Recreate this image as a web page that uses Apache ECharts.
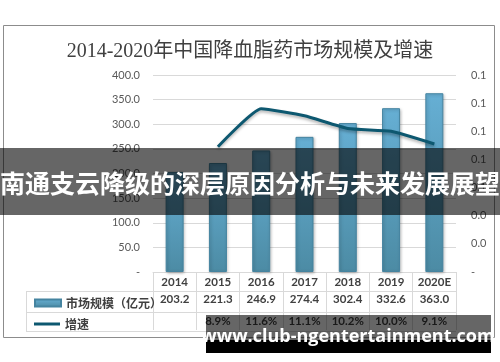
<!DOCTYPE html>
<html><head><meta charset="utf-8">
<script src="https://cdn.jsdelivr.net/npm/echarts@6/dist/echarts.min.js"></script>
<style>html,body{margin:0;padding:0;background:#fff}#c{width:500px;height:362px}</style>
</head><body><div id="c"></div>
<script>
// ---- data ----
const years = ['2014', '2015', '2016', '2017', '2018', '2019', '2020E'];
const marketSize = [203.2, 221.3, 246.9, 274.4, 302.4, 332.6, 363.0];
const growthRate = [null, 0.089, 0.116, 0.111, 0.102, 0.100, 0.091];
const seriesNames = ['市场规模（亿元）', '增速'];
const titleText = '2014-2020年中国降血脂药市场规模及增速';
const bannerText = '南通支云降级的深层原因分析与未来发展展望';
const watermarkText = 'www.club-ngentertainment.com';

const sizeLabels = marketSize.map(v => v.toFixed(1));
const growthLabels = growthRate.map(v => v == null ? '' : (v * 100).toFixed(1) + '%');

const chart = echarts.init(document.getElementById('c'));
const gridC = '#d9d9d9';
const tblFont = {fontFamily: 'Lato', fontSize: 11.5, fontWeight: 'bold', color: '#404040'};
const axisFont = {fontFamily: 'Lato', fontSize: 11, color: '#595959'};
const legText = {fontFamily: '"Noto Sans CJK SC"', fontSize: 12, fontWeight: 'bold', color: '#404040'};

chart.setOption({
  animation: false,
  title: {
    text: titleText, left: 'center', top: 37,
    textStyle: {fontFamily: '"Liberation Serif", "Noto Sans CJK SC"', fontSize: 20, fontWeight: 'normal', color: '#404040'}
  },
  grid: {left: 153, right: 44, top: 75, bottom: 90},
  legend: [
    {data: [seriesNames[0]], left: 29, top: 292, itemWidth: 26, itemHeight: 7, icon: 'rect', itemGap: 4,
     textStyle: legText, selectedMode: false},
    {data: [seriesNames[1]], left: 29, top: 313, itemWidth: 26, itemHeight: 3, icon: 'rect',
     textStyle: legText, selectedMode: false}
  ],
  xAxis: [
    {type: 'category', data: years, position: 'bottom', offset: 1,
     axisLine: {show: true, lineStyle: {color: gridC}},
     axisTick: {show: true, length: 58, lineStyle: {color: gridC}},
     axisLabel: Object.assign({margin: 3}, tblFont)},
    {type: 'category', data: sizeLabels, position: 'bottom', offset: 19,
     axisLine: {show: false}, axisTick: {show: false},
     axisLabel: Object.assign({margin: 2}, tblFont)},
    {type: 'category', data: growthLabels, position: 'bottom', offset: 41,
     axisLine: {show: false}, axisTick: {show: false},
     axisLabel: Object.assign({margin: 2}, tblFont)}
  ],
  yAxis: [
    {type: 'value', min: 0, max: 400, interval: 50,
     axisLine: {show: false}, axisTick: {show: false},
     splitLine: {lineStyle: {color: gridC}},
     axisLabel: Object.assign({margin: 13, formatter: v => v === 0 ? '-' : v.toFixed(1)}, axisFont)},
    {type: 'value', min: 0, max: 0.14, interval: 0.02,
     axisLine: {show: false}, axisTick: {show: false}, splitLine: {show: false},
     axisLabel: Object.assign({margin: 15, formatter: v => v === 0 ? '-' : v.toFixed(1)}, axisFont)}
  ],
  series: [
    {name: seriesNames[0], type: 'bar', data: marketSize, barWidth: 18,
     itemStyle: {
       color: new echarts.graphic.LinearGradient(0, 0, 0, 1, [
         {offset: 0, color: '#66afd4'}, {offset: 1, color: '#4c8ba4'}]),
       borderColor: '#4584a0', borderWidth: 1,
       shadowColor: 'rgba(0,0,0,0.25)', shadowBlur: 3, shadowOffsetX: 1, shadowOffsetY: 1
     }},
    {name: seriesNames[1], type: 'line', yAxisIndex: 1, data: growthRate, symbol: 'none',
     smooth: 0.15,
     lineStyle: {color: '#0d5870', width: 3, shadowColor: 'rgba(0,0,0,0.3)', shadowBlur: 3, shadowOffsetY: 2},
     itemStyle: {color: '#0d5870'}}
  ],
  graphic: [
    {type: 'rect', shape: {x: 3.5, y: 25.5, width: 491, height: 312}, style: {fill: 'none', stroke: '#8c8c8c', lineWidth: 1}, z: -1},
    {type: 'line', shape: {x1: 26, y1: 291.5, x2: 456, y2: 291.5}, style: {stroke: gridC, lineWidth: 1}},
    {type: 'line', shape: {x1: 26, y1: 312.5, x2: 456, y2: 312.5}, style: {stroke: gridC, lineWidth: 1}},
    {type: 'line', shape: {x1: 26, y1: 331.5, x2: 456, y2: 331.5}, style: {stroke: gridC, lineWidth: 1}},
    {type: 'line', shape: {x1: 26.5, y1: 291, x2: 26.5, y2: 331}, style: {stroke: gridC, lineWidth: 1}},
    {type: 'rect', shape: {x: 0, y: 148, width: 500, height: 67}, style: {fill: 'rgba(0,0,0,0.6)'}, z: 100},
    {type: 'text', x: 250, y: 183, z: 101,
     style: {text: bannerText, fill: '#fff', font: 'bold 25px "Noto Sans CJK SC"', align: 'center', verticalAlign: 'middle'}},
    {type: 'rect', shape: {x: 206, y: 315, width: 285, height: 25}, style: {fill: 'rgba(0,0,0,0.6)'}, z: 100},
    {type: 'rect', shape: {x: 206, y: 340, width: 285, height: 13}, style: {fill: '#000'}, z: 100},
    {type: 'text', x: 348, y: 337, z: 101,
     style: {text: watermarkText, fill: '#fff', font: 'bold 18px "Open Sans"', align: 'center', verticalAlign: 'middle'}}
  ]
});
</script></body></html>
